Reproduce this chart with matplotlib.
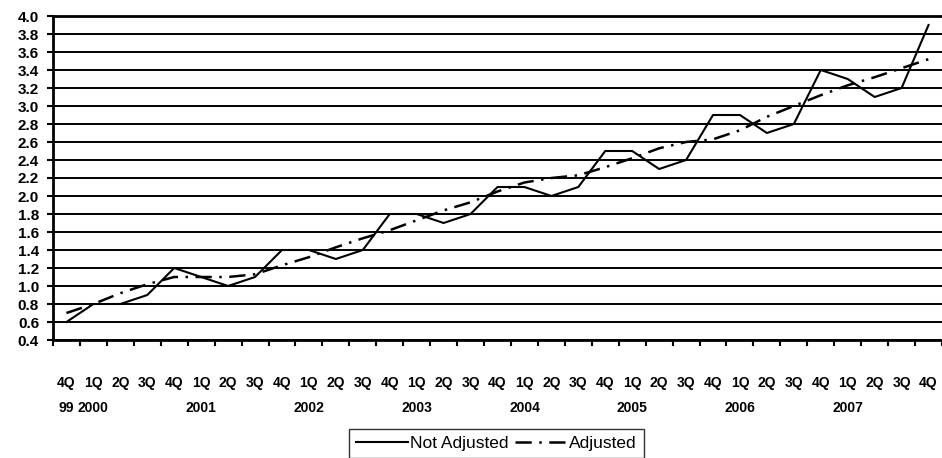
import matplotlib.pyplot as plt

# Quarter labels, 4Q 1999 through 4Q 2007
quarters = ["4Q", "1Q", "2Q", "3Q"] * 8 + ["4Q"]
years = ["99", "2000", "", "", "", "2001", "", "", "", "2002", "", "", "", "2003", "", "", "",
         "2004", "", "", "", "2005", "", "", "", "2006", "", "", "", "2007", "", "", ""]

not_adjusted = [0.6, 0.8, 0.8, 0.9, 1.2, 1.1, 1.0, 1.1, 1.4, 1.4, 1.3, 1.4, 1.8, 1.8, 1.7, 1.8,
                2.1, 2.1, 2.0, 2.1, 2.5, 2.5, 2.3, 2.4, 2.9, 2.9, 2.7, 2.8, 3.4, 3.3, 3.1, 3.2, 3.9]
adjusted = [0.70, 0.80, 0.92, 1.02, 1.10, 1.10, 1.10, 1.13, 1.23, 1.32, 1.43, 1.53, 1.62, 1.73,
            1.84, 1.93, 2.05, 2.15, 2.20, 2.23, 2.32, 2.42, 2.53, 2.60, 2.63, 2.73, 2.88, 3.00,
            3.12, 3.23, 3.32, 3.42, 3.52]

y_ticks = [0.4, 0.6, 0.8, 1.0, 1.2, 1.4, 1.6, 1.8, 2.0, 2.2, 2.4, 2.6, 2.8, 3.0, 3.2, 3.4,
           3.6, 3.8, 4.0]

plt.rcParams['font.family'] = ['Liberation Sans', 'DejaVu Sans']

fig = plt.figure(figsize=(9.42, 4.58), dpi=100)
ax = fig.add_axes([53 / 942, 1 - 340 / 458, 1 - 53 / 942, (340 - 16) / 458])

x = list(range(len(quarters)))
ax.plot(x, not_adjusted, color="black", lw=1.5, label="Not Adjusted", zorder=3)
ax.plot(x, adjusted, color="black", lw=1.8, linestyle=(0, (6.5, 3, 1, 3)),
        label="Adjusted", zorder=3)

ax.set_xlim(-0.5, len(quarters) - 0.5)
ax.set_ylim(0.4, 4.0)

# y axis
ax.set_yticks(y_ticks)
ax.set_yticklabels(["%.1f" % v for v in y_ticks], fontsize=11, fontweight="bold")
ax.tick_params(axis="y", direction="out", length=4, width=1.5, pad=6)
ax.yaxis.grid(True, color="black", lw=1.4)
ax.set_axisbelow(True)

# x axis: marks between categories, labels at category centres
ax.set_xticks([i - 0.5 for i in range(len(quarters) + 1)])
ax.set_xticklabels([])
ax.tick_params(axis="x", which="major", direction="out", length=4, width=1.5)
ax.set_xticks(x, minor=True)
labels = [q + ("\n" + y if y else "") for q, y in zip(quarters, years)]
ax.set_xticklabels(labels, minor=True, fontsize=10, fontweight="bold")
ax.tick_params(axis="x", which="minor", length=0, pad=26)
for t in ax.get_xticklabels(minor=True):
    t.set_linespacing(1.95)

for side in ["left", "bottom", "top"]:
    ax.spines[side].set_linewidth(2.0)
ax.spines["right"].set_visible(False)

leg = fig.legend(loc="upper center", bbox_to_anchor=(0.527, 1 - 429 / 458), ncol=2,
                 fontsize=12.5, frameon=True, fancybox=False, edgecolor="black",
                 handlelength=3.0, handletextpad=0.1, columnspacing=0.4,
                 borderpad=0.4, borderaxespad=0)
leg.get_frame().set_linewidth(1.0)

fig.savefig("out.png", dpi=100)
